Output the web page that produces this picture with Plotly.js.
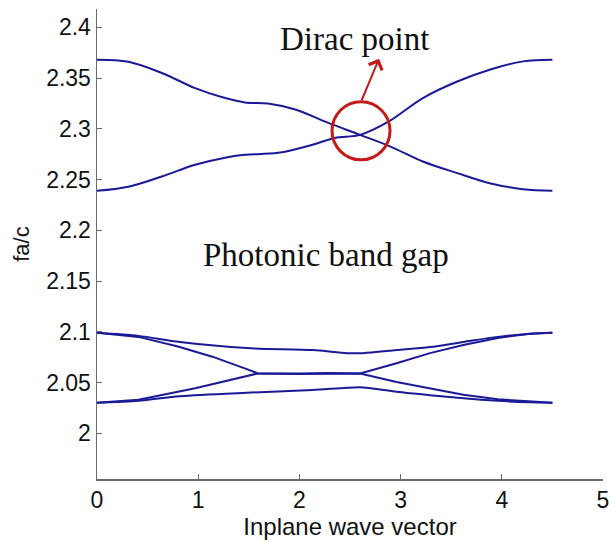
<!DOCTYPE html>
<html>
<head>
<meta charset="utf-8">
<script src="https://cdn.plot.ly/plotly-3.0.1.min.js"></script>
<style>html,body{margin:0;padding:0;background:#fff;}#chart{width:613px;height:542px;}</style>
</head>
<body>
<div id="chart"></div>
<script>
// Upper pair of bands (crossing at the Dirac point)
var bandA_x = [0, 0.31, 0.64, 0.97, 1.24, 1.46, 1.69, 1.96, 2.28, 2.60, 2.90, 3.22, 3.56, 3.88, 4.21, 4.5];
var bandA_y = [2.368, 2.366, 2.355, 2.340, 2.331, 2.326, 2.325, 2.319, 2.306, 2.294, 2.2825, 2.2678, 2.2563, 2.2464, 2.2405, 2.239];
var bandB_x = [0, 0.31, 0.64, 0.97, 1.29, 1.46, 1.79, 2.12, 2.35, 2.60, 2.88, 3.22, 3.56, 3.88, 4.21, 4.5];
var bandB_y = [2.239, 2.243, 2.253, 2.2645, 2.272, 2.2744, 2.2763, 2.284, 2.291, 2.294, 2.307, 2.3303, 2.3466, 2.3582, 2.3664, 2.368];

// Lower group of four bands
var band1_x = [0, 0.41, 0.82, 1.48, 2.13, 2.47, 2.63, 2.96, 3.29, 3.62, 3.96, 4.28, 4.5];
var band1_y = [2.030, 2.032, 2.0366, 2.040, 2.0426, 2.0449, 2.0452, 2.041, 2.0376, 2.0345, 2.032, 2.0305, 2.030];
var band2_x = [0, 0.41, 0.97, 1.29, 1.59, 2.0, 2.3, 2.6, 2.96, 3.29, 3.62, 3.96, 4.28, 4.5];
var band2_y = [2.030, 2.033, 2.0445, 2.052, 2.059, 2.059, 2.0595, 2.059, 2.069, 2.079, 2.087, 2.094, 2.098, 2.099];
var band3_x = [0, 0.41, 0.80, 1.14, 1.46, 1.59, 2.0, 2.3, 2.6, 2.96, 3.29, 3.62, 3.96, 4.28, 4.5];
var band3_y = [2.099, 2.095, 2.0855, 2.0755, 2.064, 2.059, 2.0585, 2.0585, 2.059, 2.0505, 2.044, 2.038, 2.0335, 2.031, 2.030];
var band4_x = [0, 0.41, 0.82, 1.48, 2.13, 2.47, 2.63, 2.96, 3.29, 3.62, 3.96, 4.28, 4.5];
var band4_y = [2.099, 2.096, 2.090, 2.084, 2.082, 2.079, 2.079, 2.082, 2.085, 2.090, 2.095, 2.098, 2.099];

var xTicks = [0, 1, 2, 3, 4, 5];
var yTicks = [2, 2.05, 2.1, 2.15, 2.2, 2.25, 2.3, 2.35, 2.4];
var yTickText = ['2', '2.05', '2.1', '2.15', '2.2', '2.25', '2.3', '2.35', '2.4'];

var lineColor = '#1a1a96';
function band(x, y, smooth) {
  var line = {color: lineColor, width: 2};
  if (smooth) { line.shape = 'spline'; line.smoothing = smooth; }
  return {x: x, y: y, type: 'scatter', mode: 'lines', line: line, hoverinfo: 'skip', showlegend: false};
}
var traces = [
  band(bandA_x, bandA_y, 1), band(bandB_x, bandB_y, 1),
  band(band1_x, band1_y, 0.8), band(band2_x, band2_y, 0), band(band3_x, band3_y, 0), band(band4_x, band4_y, 0.8)
];

var axisColor = '#6b6b6b';
var layout = {
  width: 613, height: 542,
  margin: {l: 97, r: 10, t: 9, b: 63},
  paper_bgcolor: '#ffffff', plot_bgcolor: '#ffffff',
  showlegend: false,
  xaxis: {
    range: [0, 5], tickvals: xTicks, ticks: 'inside', ticklen: 5, tickcolor: axisColor,
    showline: true, linecolor: axisColor, linewidth: 1.5, showgrid: false, zeroline: false,
    tickfont: {family: 'Liberation Sans, Arial, sans-serif', size: 23, color: '#111'},
    title: {text: 'Inplane wave vector', font: {family: 'Liberation Sans, Arial, sans-serif', size: 24, color: '#111'}, standoff: 1}
  },
  yaxis: {
    range: [1.955, 2.418], tickvals: yTicks, ticktext: yTickText, ticks: 'inside', ticklen: 5, tickcolor: axisColor,
    showline: true, linecolor: axisColor, linewidth: 1.5, showgrid: false, zeroline: false,
    tickfont: {family: 'Liberation Sans, Arial, sans-serif', size: 23, color: '#111'},
    title: {text: 'fa/c', font: {family: 'Liberation Sans, Arial, sans-serif', size: 22, color: '#111'}, standoff: 10}
  },
  shapes: [{
    type: 'circle', xref: 'x', yref: 'y', xsizemode: 'pixel', ysizemode: 'pixel',
    xanchor: 2.609, yanchor: 2.298, x0: -29, x1: 29, y0: -29, y1: 29,
    line: {color: '#c41a1a', width: 3}
  }],
  annotations: [
    {x: 2.54, y: 2.388, xref: 'x', yref: 'y', text: 'Dirac point', showarrow: false,
     font: {family: 'Liberation Serif, Times New Roman, serif', size: 33, color: '#111'}},
    {x: 2.26, y: 2.176, xref: 'x', yref: 'y', text: 'Photonic band gap', showarrow: false,
     font: {family: 'Liberation Serif, Times New Roman, serif', size: 33, color: '#111'}},
    {x: 2.787, y: 2.369, xref: 'x', yref: 'y', text: '', showarrow: true,
     ax: -18, ay: 43, arrowhead: 4, arrowsize: 1.4, arrowwidth: 2, arrowcolor: '#c41a1a'}
  ]
};
Plotly.newPlot('chart', traces, layout, {staticPlot: true, displayModeBar: false});
</script>
</body>
</html>
